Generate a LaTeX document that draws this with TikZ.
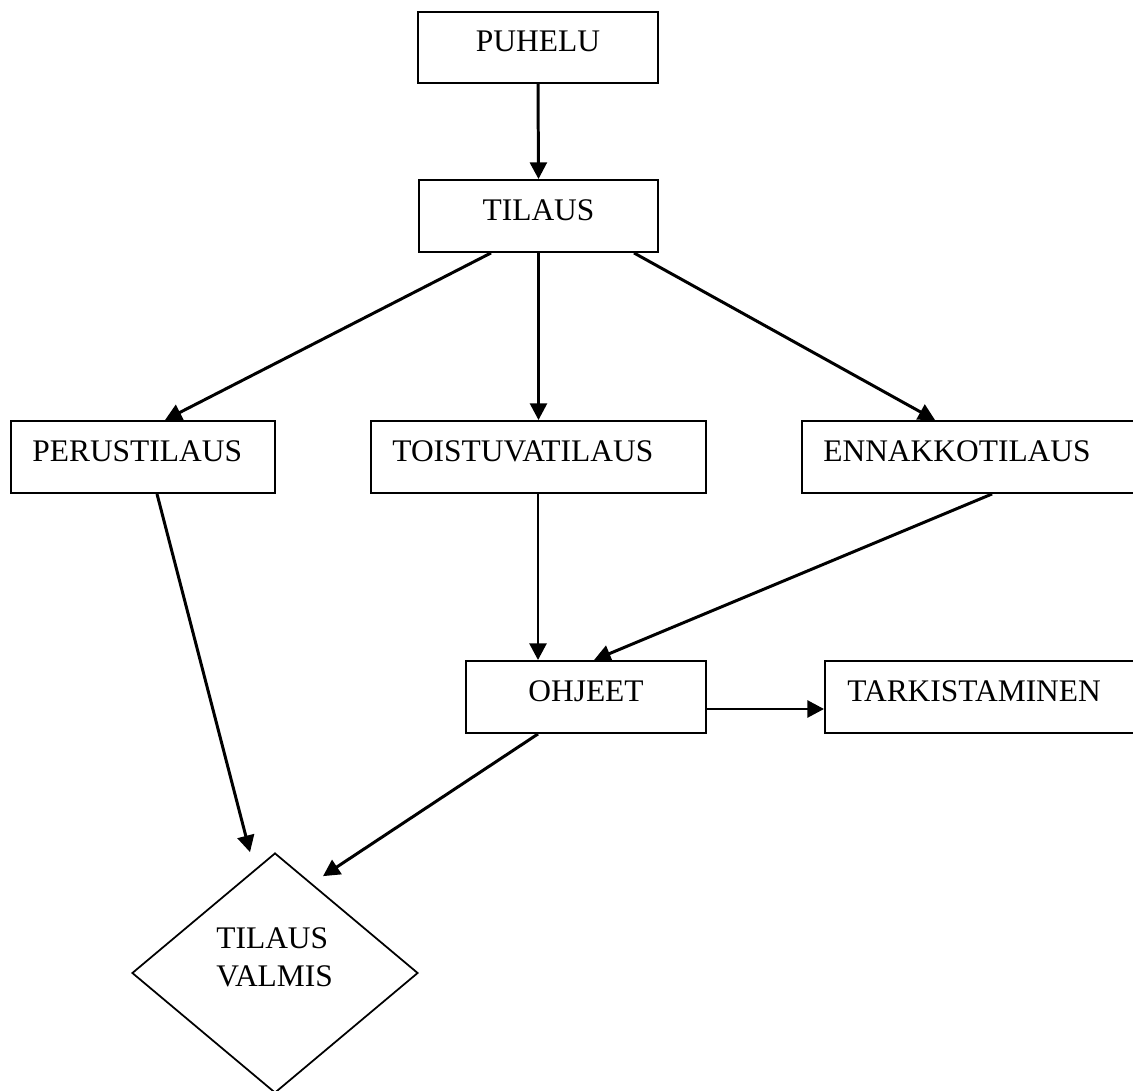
\documentclass[tikz,border=0pt]{standalone}
\usepackage{fontspec}
\setmainfont{Liberation Serif}
\usetikzlibrary{arrows.meta,calc,shapes.geometric}
\begin{document}
\begin{tikzpicture}[x=0.02cm,y=-0.02cm,
  box/.style={draw,line width=1.1pt,rectangle,inner sep=0pt,minimum height=1.44cm},
  lbl/.style={inner sep=0pt,font=\fontsize{17.9}{21.5}\selectfont},
  flow/.style={line width=1.7pt,-{Triangle[length=9.5pt,width=9.6pt]}}]
\useasboundingbox (0,0) rectangle (1133,1091);
\clip (0,0) rectangle (1133,1091);

% boxes
\node[box,minimum width=4.8cm,minimum height=1.42cm] (puhelu) at (538,47.5) {};
\node[box,minimum width=4.78cm] (tilaus) at (538.5,216) {};
\node[box,minimum width=5.28cm] (perus) at (143,457) {};
\node[box,minimum width=6.7cm] (toistuva) at (538.5,457) {};
\node[box,minimum width=6.76cm] (ennakko) at (971,457) {};
\node[box,minimum width=4.8cm] (ohjeet) at (586,697) {};
\node[box,minimum width=6.3cm] (tark) at (982.5,697) {};
\node[draw,diamond,line width=1pt,inner sep=0pt,
      minimum width=5.72cm,minimum height=4.8cm] (valmis) at (275,973) {};

% labels
\node[lbl,anchor=base] (tPuhelu) at (538,52) {PUHELU};
\node[lbl,anchor=base] (tTilaus) at (538.5,221) {TILAUS};
\node[lbl,anchor=base west] (tPerus) at (32,461.5) {PERUSTILAUS};
\node[lbl,anchor=base west] (tToistuva) at (392,461.5) {TOISTUVATILAUS};
\node[lbl,anchor=base west] (tEnnakko) at (823,461.5) {ENNAKKOTILAUS};
\node[lbl,anchor=base] (tOhjeet) at (586,701.5) {OHJEET};
\node[lbl,anchor=base west] (tTark) at (847,701.5) {TARKISTAMINEN};
\node[lbl,anchor=base west] (tValmisA) at (216,948) {TILAUS};
\node[lbl,anchor=base west] (tValmisB) at (216,986) {VALMIS};

% connectors
\draw[flow] (puhelu.south) -- (tilaus.north);
\draw[flow] ($(tilaus.south)+(-47.5,0)$) -- ($(perus.north)+(22,0)$);
\draw[flow] (tilaus.south) -- (toistuva.north);
\draw[flow] ($(tilaus.south)+(95.5,0)$) -- ($(ennakko.north west)+(134,0)$);
\draw[flow] ($(perus.south)+(14,0)$) -- ($(valmis.north)+(-25,0)$);
\draw[flow] ($(toistuva.south)+(-0.5,0)$) -- ($(ohjeet.north)+(-48,0)$);
\draw[flow] ($(ennakko.south west)+(191,0)$) -- ($(ohjeet.north)+(8,0)$);
\draw[flow] ($(ohjeet.east)+(0,12)$) -- ($(tark.west)+(0,12)$);
\draw[flow] ($(ohjeet.south)+(-48,0)$) -- ($(valmis.north)+(48,24)$);
\end{tikzpicture}
\end{document}
